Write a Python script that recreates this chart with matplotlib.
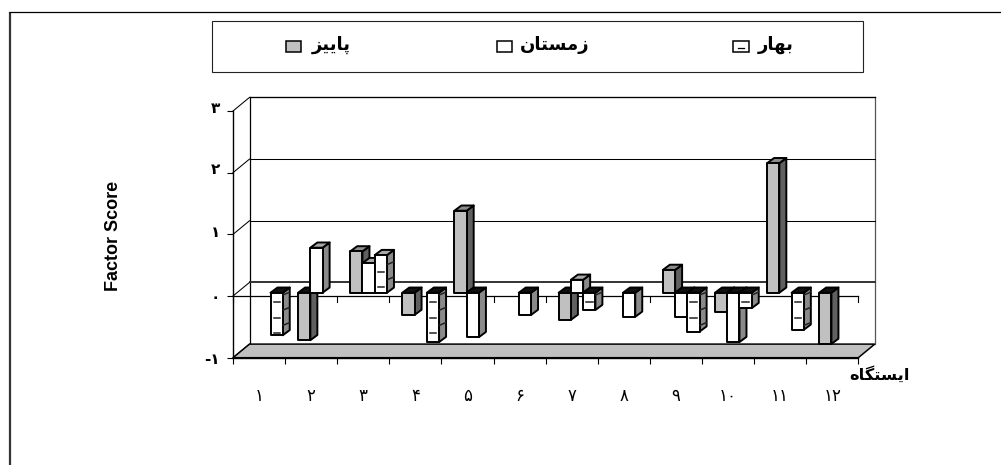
import numpy as np
import matplotlib
matplotlib.use("Agg")
import matplotlib.pyplot as plt
from matplotlib.patches import Polygon, Rectangle
from matplotlib.transforms import ScaledTranslation

# ---------- data (None = no bar) ----------
categories = ["۱", "۲", "۳", "۴", "۵", "۶", "۷", "۸", "۹", "۱۰", "۱۱", "۱۲"]
autumn = [None, -0.77, 0.67, -0.36, 1.33, None, -0.44, None, 0.37, -0.31, 2.10, -0.83]
winter = [None, 0.73, 0.48, None, -0.72, -0.36, 0.21, -0.39, -0.39, -0.80, None, None]
spring = [-0.69, None, 0.61, -0.80, None, None, -0.28, None, -0.63, -0.25, -0.60, None]
series_names = ["پاییز", "زمستان", "بهار"]
y_ticks = [-1, 0, 1, 2, 3]
y_tick_labels = ["-۱", "۰", "۱", "۲", "۳"]
x_title = "ایستگاه"
y_title = "Factor Score"

# ---------- minimal Persian shaping (matplotlib has no text shaper) ----------
FORMS = {  # isolated, final, initial, medial
    "ا": "\uFE8D\uFE8E", "ز": "\uFEAF\uFEB0", "ر": "\uFEAD\uFEAE",
    "پ": "\uFB56\uFB57\uFB58\uFB59", "ی": "\uFBFC\uFBFD\uFBFE\uFBFF",
    "م": "\uFEE1\uFEE2\uFEE3\uFEE4", "س": "\uFEB1\uFEB2\uFEB3\uFEB4",
    "ت": "\uFE95\uFE96\uFE97\uFE98", "ن": "\uFEE5\uFEE6\uFEE7\uFEE8",
    "ب": "\uFE8F\uFE90\uFE91\uFE92", "ه": "\uFEE9\uFEEA\uFEEB\uFEEC",
    "گ": "\uFB92\uFB93\uFB94\uFB95",
}
def shape(word):
    out = []
    for i, ch in enumerate(word):
        f = FORMS[ch]
        prev = i > 0 and len(FORMS[word[i - 1]]) == 4
        nxt = i < len(word) - 1 and len(f) == 4
        idx = {(False, False): 0, (True, False): 1, (False, True): 2, (True, True): 3}[(prev, nxt)]
        out.append(f[idx])
    return "".join(reversed(out))

W, H = 1001, 465
fig = plt.figure(figsize=(W / 100, H / 100), dpi=100, facecolor="white")

# ---------- overlay in pixel coordinates for frame / legend / text ----------
bg = fig.add_axes([0, 0, 1, 1], zorder=0)
bg.set_xlim(0, W); bg.set_ylim(H, 0); bg.axis("off")
bg.plot([9.5, 9.5], [12.5, H], color="#333333", lw=1.6, solid_capstyle="butt")
bg.plot([9, W], [12.5, 12.5], color="black", lw=0.9, solid_capstyle="butt")
bg.add_patch(Rectangle((211.5, 20.7), 651, 51.6, fc="white", ec="#222222", lw=0.8))

FACE = {"a": "#C0C0C0", "w": "white", "s": "white"}
SIDE = {"a": "#606060", "w": "#8A8A8A", "s": "#8A8A8A"}
TOP = {"a": "#8C8C8C", "w": "#A8A8A8", "s": "#A8A8A8"}

legend_items = [(285.7, 331.5, "a", 0), (496.7, 554.5, "w", 1), (733.3, 776, "s", 2)]
for sx, tx, key, i in legend_items:
    bg.add_patch(Rectangle((sx, 41), 15.4, 11, fc=FACE[key], ec="black", lw=1.1))
    if key == "s":
        bg.plot([sx + 5, sx + 10.5], [48.3, 48.3], color="black", lw=0.9)
    bg.text(tx, 44.5, shape(series_names[i]), family="DejaVu Sans", weight="bold",
            fontsize=13, ha="center", va="center")

bg.text(113.5, 236, y_title, rotation=90, family="Liberation Sans", weight="bold",
        fontsize=13, ha="center", va="center")
bg.text(880, 374, shape(x_title), family="DejaVu Sans", weight="bold",
        fontsize=11.7, ha="center", va="center")

# ---------- main axes: front plane of the pseudo-3D chart ----------
LEFT, RIGHT, TOPPX, BOTTOM = 233, 858.3, 111, 357.7
ax = fig.add_axes([LEFT / W, 1 - BOTTOM / H, (RIGHT - LEFT) / W, (BOTTOM - TOPPX) / H], zorder=1)
ax.set_xlim(0, 12); ax.set_ylim(-1, 3)
ax.patch.set_visible(False)
for s in ("top", "right"):
    ax.spines[s].set_visible(False)
for s in ("left", "bottom"):
    ax.spines[s].set_linewidth(1.0)

px_x = 12 / (RIGHT - LEFT)
px_y = 4 / (BOTTOM - TOPPX)
DX, DY = 16.5 * px_x, 13.6 * px_y   # depth of the box

# walls and floor
ax.add_patch(Polygon([(DX, -1 + DY), (12 + DX, -1 + DY), (12 + DX, 3 + DY), (DX, 3 + DY)],
                     closed=True, fc="white", ec="none", zorder=1, clip_on=False))
ax.plot([DX, DX], [-1 + DY, 3 + DY], color="black", lw=0.9, zorder=1.2, clip_on=False)
ax.plot([12 + DX, 12 + DX], [-1 + DY, 3 + DY], color="#555555", lw=0.9, zorder=1.2, clip_on=False)
for v in y_ticks:
    col, lw = ("#333333", 1.4) if v == 0 else ("black", 0.95 if v == 3 else 0.75)
    if v > -1:
        ax.plot([DX, 12 + DX], [v + DY, v + DY], color=col, lw=lw, zorder=1.3, clip_on=False)
    ax.plot([0, DX], [v, v + DY], color="black", lw=0.75, zorder=1.3, clip_on=False)
ax.add_patch(Polygon([(0, -1), (DX, -1 + DY), (12 + DX, -1 + DY), (12, -1)], closed=True,
                     fc="#C0C0C0", ec="black", lw=1.1, zorder=1.5, clip_on=False))

# zero line with its ticks
ax.plot([0, 12], [0, 0], color="black", lw=0.9, zorder=2, clip_on=False)
for i in range(13):
    ax.plot([i, i], [0, -5.5 * px_y], color="black", lw=0.8, zorder=2, clip_on=False)

# ---------- bars ----------
SLOT0, SLOT_W = 13.0 * px_x, 12.25 * px_x
BX, BY = 7.0 * px_x, 5.2 * px_y     # bar depth
BASE = 3.3 * px_y                   # bars stand a little behind the front plane
EDGE = 1.4

def bar(cat, slot, value, key, z):
    x0 = cat + SLOT0 + slot * SLOT_W
    x1 = x0 + SLOT_W
    b, t = BASE, BASE + value
    hi = max(b, t); lo = min(b, t)
    topc = TOP[key] if value > 0 else "#111111"
    ax.add_patch(Polygon([(x1, lo), (x1 + BX, lo + BY), (x1 + BX, hi + BY), (x1, hi)], closed=True,
                         fc=SIDE[key], ec="black", lw=EDGE, joinstyle="round", zorder=z, clip_on=False))
    ax.add_patch(Polygon([(x0, hi), (x0 + BX, hi + BY), (x1 + BX, hi + BY), (x1, hi)], closed=True,
                         fc=topc, ec="black", lw=EDGE, joinstyle="round", zorder=z, clip_on=False))
    ax.add_patch(Rectangle((x0, lo), SLOT_W, hi - lo, fc=FACE[key], ec="black", lw=EDGE,
                           joinstyle="round", zorder=z + 0.001, clip_on=False))
    if key == "s":   # dashed pattern fill, fixed on the page
        for k in range(-20, 20):
            yf = (296 - (302.3 + 15.2 * k)) * px_y
            ys = (296 - (310.0 + 15.2 * k)) * px_y
            if lo + 2 * px_y < yf < hi - 2 * px_y:
                ax.plot([x0 + 3 * px_x, x0 + 9.5 * px_x], [yf, yf], color="#222222", lw=1.1,
                        zorder=z + 0.002, clip_on=False)
            if lo + 4 * px_y < ys < hi and ys < hi:
                ax.plot([x1 + 0.5 * px_x, x1 + BX - 0.5 * px_x], [ys, ys + 2.5 * px_y], color="#222222",
                        lw=1.1, zorder=z + 0.002, clip_on=False)

z = 3.0
for c in range(len(categories)):
    for slot, (vals, key) in enumerate(((autumn, "a"), (winter, "w"), (spring, "s"))):
        if vals[c] is not None:
            bar(c, slot, vals[c], key, z)
            z += 0.01

# ---------- ticks and labels ----------
ax.set_yticks(y_ticks)
ax.set_yticklabels(y_tick_labels, family="DejaVu Sans", fontsize=11, weight="bold")
ax.tick_params(axis="y", length=4.3, width=0.8, pad=5)
for lab, up in zip(ax.get_yticklabels(), [0, 0, 3, 4.5, 4]):
    lab.set_transform(lab.get_transform() + ScaledTranslation(0, up / 100, fig.dpi_scale_trans))
ax.set_xticks(range(13))
ax.set_xticklabels([""] * 13)
ax.tick_params(axis="x", which="major", length=4.3, width=0.8)
ax.set_xticks(np.arange(len(categories)) + 0.5, minor=True)
ax.set_xticklabels(categories, minor=True, family="DejaVu Sans", fontsize=12)
ax.tick_params(axis="x", which="minor", length=0, pad=21)

fig.savefig("out.png", dpi=100)
